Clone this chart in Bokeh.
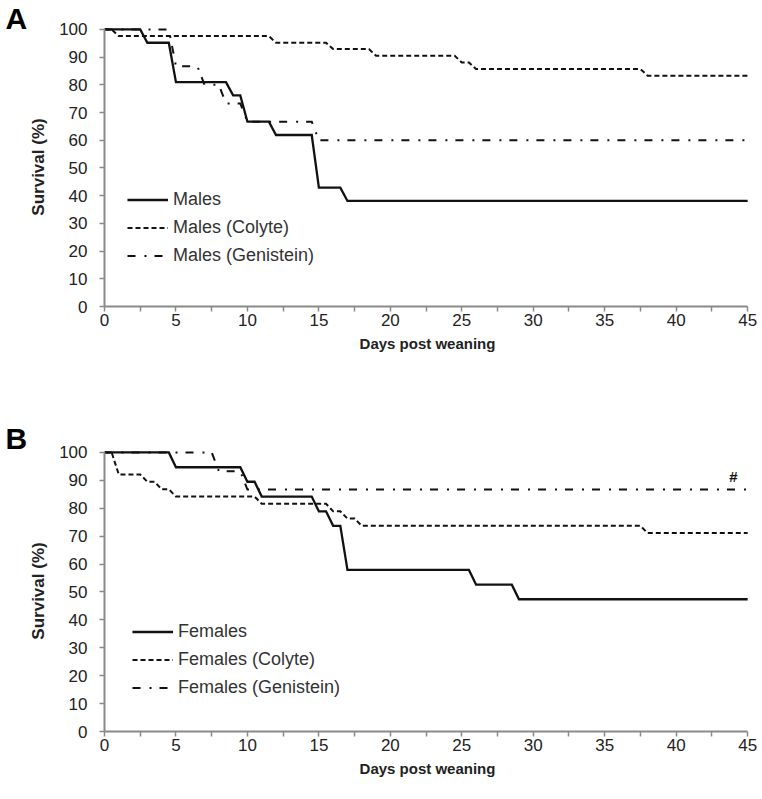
from bokeh.plotting import figure
from bokeh.models import Range1d, FixedTicker, Label, Legend, LegendItem, Title
from bokeh.layouts import column
from bokeh.embed import file_html
from bokeh.resources import INLINE

# ---------------- data ----------------
START = 100.0
END_DAY = 45

males_days = [3, 5, 9, 10, 12, 15, 17]
males_surv = [95.2, 81.0, 76.2, 66.7, 61.9, 42.9, 38.1]

males_colyte_days = [1, 12, 16, 19, 25, 26, 38]
males_colyte_surv = [97.6, 95.2, 92.9, 90.5, 88.1, 85.7, 83.3]

males_gen_days = [5, 7, 8.5, 10, 15]
males_gen_surv = [86.7, 80.0, 73.3, 66.7, 60.0]

females_days = [5, 10, 11, 15, 16, 17, 26, 29]
females_surv = [94.7, 89.5, 84.2, 78.9, 73.7, 57.9, 52.6, 47.4]

females_colyte_days = [1, 3, 4, 5, 11, 16, 17, 18, 38]
females_colyte_surv = [92.1, 89.5, 86.8, 84.2, 81.6, 78.9, 76.3, 73.7, 71.1]

females_gen_days = [8, 10]
females_gen_surv = [93.3, 86.7]

x_ticks = [0, 5, 10, 15, 20, 25, 30, 35, 40, 45]
y_ticks = [0, 10, 20, 30, 40, 50, 60, 70, 80, 90, 100]

hash_day = 44.0
hash_value = 88.3

FONT = "Liberation Sans"
INK = "#111111"


def km_path(days, surv, ramp=0.5):
    xs, ys = [0.0], [START]
    prev = START
    for d, s in zip(days, surv):
        xs += [d - ramp, d]
        ys += [prev, s]
        prev = s
    xs.append(END_DAY)
    ys.append(prev)
    return xs, ys


def make_panel(letter, series, names, top, frame_h, bottom, legend_loc, letter_standoff, hash_mark=False):
    left, frame_w, right = 104, 646, 7
    p = figure(width=left + frame_w + right, height=top + frame_h + bottom,
               output_backend="svg", toolbar_location=None,
               x_range=Range1d(0, 45.2), y_range=Range1d(0, 100.7),
               min_border_left=left, min_border_right=right,
               min_border_top=top, min_border_bottom=bottom)
    p.title = Title(text=letter, align="left", offset=-99, standoff=letter_standoff,
                    vertical_align="bottom", text_font=FONT, text_font_style="bold",
                    text_font_size="30px", text_color="#000000")
    p.outline_line_color = None
    p.xgrid.visible = False
    p.ygrid.visible = False
    p.background_fill_color = "white"
    p.border_fill_color = "white"

    styles = [dict(line_dash="solid", line_width=2.3),
              dict(line_dash="5 3", line_width=2.0),
              dict(line_dash="8 9 2 8", line_width=2.0)]
    items = []
    for (days, surv), name, st in zip(series, names, styles):
        xs, ys = km_path(days, surv)
        r = p.line(xs, ys, line_color=INK, line_join="miter", **st)
        items.append(LegendItem(label=name, renderers=[r]))

    leg = Legend(items=items, location=legend_loc, padding=0, margin=0,
                 border_line_alpha=0, background_fill_alpha=0,
                 glyph_width=41, glyph_height=21, label_height=21, spacing=7,
                 label_standoff=5, label_text_font=FONT, label_text_font_size="18px",
                 label_text_color="#333333")
    p.add_layout(leg, "center")

    for ax in (p.xaxis[0], p.yaxis[0]):
        ax.axis_line_color = "#8a8a8a"
        ax.axis_line_width = 2
        ax.major_tick_line_color = "#8a8a8a"
        ax.minor_tick_line_color = "#8a8a8a"
        ax.major_tick_line_width = 1.5
        ax.minor_tick_line_width = 1.5
        ax.major_tick_in = 0
        ax.major_tick_out = 5
        ax.major_label_text_font = FONT
        ax.major_label_text_font_size = "17px"
        ax.major_label_text_color = "#222222"
        ax.axis_label_text_font = FONT
        ax.axis_label_text_font_style = "bold"
        ax.axis_label_text_color = "#222222"

    p.xaxis.ticker = FixedTicker(ticks=x_ticks, minor_ticks=[t + 2.5 for t in x_ticks[:-1]])
    p.xaxis.minor_tick_in = 0
    p.xaxis.minor_tick_out = 5
    p.xaxis.bounds = (0, 45)
    p.xaxis.major_label_standoff = 2
    p.xaxis.axis_label = "Days post weaning"
    p.xaxis.axis_label_text_font_size = "15px"
    p.xaxis.axis_label_standoff = 6

    p.yaxis.ticker = FixedTicker(ticks=y_ticks)
    p.yaxis.minor_tick_out = 0
    p.yaxis.bounds = (0, 100)
    p.yaxis.major_label_standoff = 12
    p.yaxis.axis_label = "Survival (%)"
    p.yaxis.axis_label_text_font_size = "17px"
    p.yaxis.axis_label_standoff = 8

    if hash_mark:
        p.add_layout(Label(x=hash_day, y=hash_value, text="#", text_font=FONT,
                           text_font_style="bold", text_font_size="15px",
                           text_color="#111111", text_align="center",
                           text_baseline="bottom"))
    return p


pA = make_panel("A",
                [(males_days, males_surv), (males_colyte_days, males_colyte_surv),
                 (males_gen_days, males_gen_surv)],
                ["Males", "Males (Colyte)", "Males (Genistein)"],
                top=27, frame_h=279, bottom=114, legend_loc=(23, 40), letter_standoff=-15)

pB = make_panel("B",
                [(females_days, females_surv), (females_colyte_days, females_colyte_surv),
                 (females_gen_days, females_gen_surv)],
                ["Females", "Females (Colyte)", "Females (Genistein)"],
                top=30, frame_h=281, bottom=60, legend_loc=(28, 33), letter_standoff=-9,
                hash_mark=True)

layout = column(pA, pB, spacing=0)
open("out.html", "w").write(file_html(layout, INLINE))
